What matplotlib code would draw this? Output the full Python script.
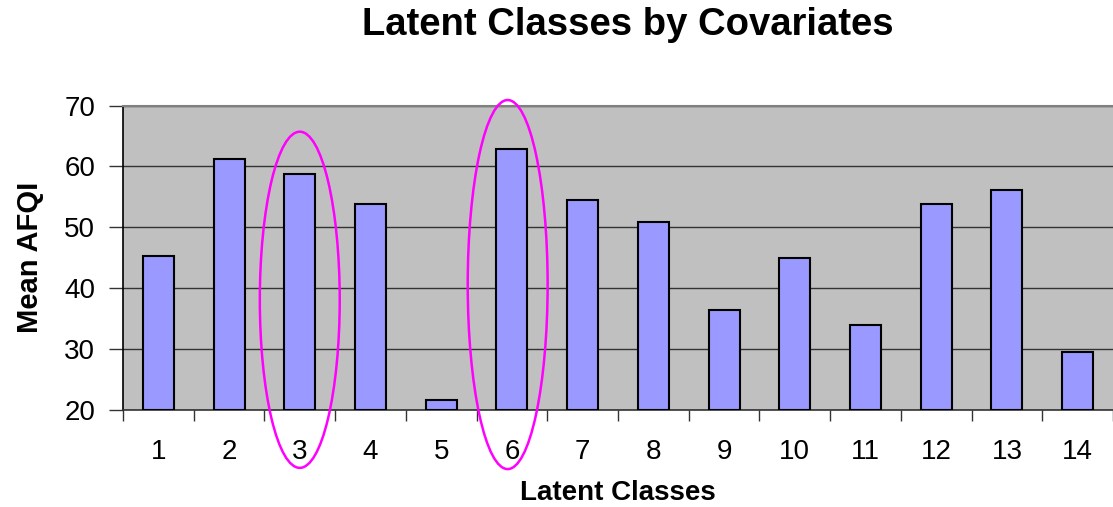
import matplotlib
matplotlib.use("Agg")
import matplotlib.pyplot as plt
from matplotlib.patches import Ellipse
from matplotlib.ticker import FixedLocator

plt.rcParams['font.family'] = ['Liberation Sans', 'DejaVu Sans']

classes = list(range(1, 15))
mean_afqi = [45.3, 61.2, 58.7, 53.8, 21.6, 62.8, 54.5, 50.9, 36.4, 45.0, 34.0, 53.8, 56.2, 29.6]
y_ticks = [20, 30, 40, 50, 60, 70]
highlighted = [3, 6]
# ellipse (center x, center y, height) around each highlighted class, in data units
highlight_center_x = [3.0, 5.94]
highlight_center_y = [38.1, 40.6]
highlight_height = [55.2, 60.6]

fig = plt.figure(figsize=(11.13, 5.07), dpi=100)
ax = fig.add_axes([0.1105, 0.1913, 0.8895, 0.6006])
ax.set_facecolor('#C0C0C0')

ax.bar(classes, [v - 20 for v in mean_afqi], bottom=20, width=0.44,
       color='#9999FF', edgecolor='black', linewidth=1.5, zorder=3)

ax.set_xlim(0.5, 14.5)
ax.set_ylim(20, 70)
ax.set_yticks(y_ticks)
ax.set_yticklabels([str(t) for t in y_ticks], fontsize=20)
ax.yaxis.grid(True, color='#333333', linewidth=1.0, zorder=1)
ax.set_axisbelow(True)

ax.set_xticks(classes)
ax.set_xticklabels([str(c) for c in classes], fontsize=20)
ax.tick_params(axis='x', which='major', length=0, pad=21)
ax.xaxis.set_minor_locator(FixedLocator([c + 0.5 for c in range(0, 15)]))
ax.tick_params(axis='x', which='minor', length=8, width=1, color='#333333', direction='out')
ax.tick_params(axis='y', length=10, width=1, color='#333333', pad=10)

ax.spines['right'].set_visible(False)
ax.spines['top'].set_color('#808080')
ax.spines['top'].set_linewidth(1.5)
ax.spines['left'].set_color('black')
ax.spines['left'].set_linewidth(1.2)
ax.spines['bottom'].set_color('#333333')
ax.spines['bottom'].set_linewidth(1.2)

for cx, cy, h in zip(highlight_center_x, highlight_center_y, highlight_height):
    e = Ellipse((cx, cy), width=1.13, height=h, fill=False, edgecolor='#FF00FF',
                linewidth=1.8, clip_on=False, zorder=5)
    ax.add_patch(e)

ax.set_xlabel('Latent Classes', fontsize=20, fontweight='bold', va='center')
ax.xaxis.set_label_coords(0.5, -0.273)
ax.set_ylabel('Mean AFQI', fontsize=21, fontweight='bold', va='center')
ax.yaxis.set_label_coords(-0.094, 0.5)
fig.text(0.564, 0.951, 'Latent Classes by Covariates', fontsize=27.5,
         fontweight='bold', ha='center', va='center')

fig.savefig('out.png', dpi=100)
